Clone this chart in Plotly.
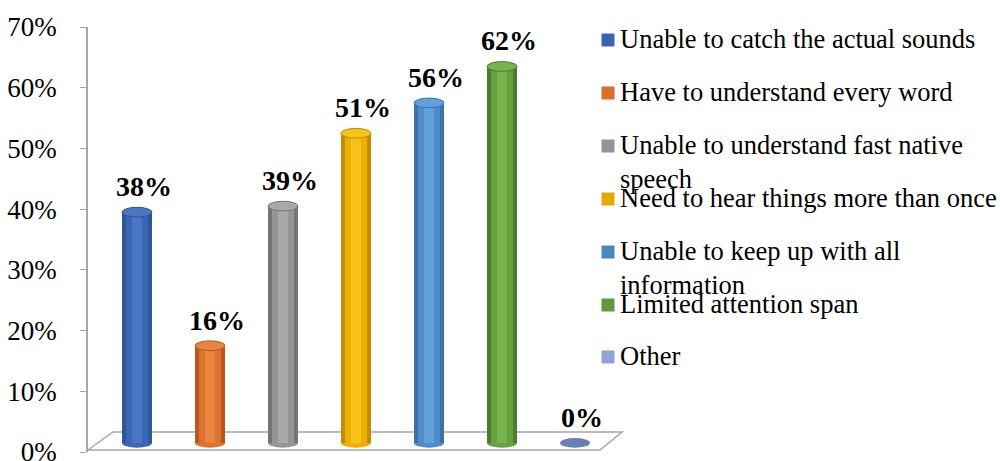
import plotly.graph_objects as go

# data
categories = [
    "Unable to catch the actual sounds",
    "Have to understand every word",
    "Unable to understand fast native speech",
    "Need to hear things more than once",
    "Unable to keep up with all information",
    "Limited attention span",
    "Other",
]
legend_labels = [
    "Unable to catch the actual sounds",
    "Have to understand every word",
    "Unable to understand fast native<br>speech",
    "Need to hear things more than once",
    "Unable to keep up with all<br>information",
    "Limited attention span",
    "Other",
]
values = [0.38, 0.16, 0.39, 0.51, 0.56, 0.62, 0.0]

edge_colors = ["#2E5597", "#B9581E", "#757575", "#C08C00", "#3B73A8", "#4B7D2E", "#5E74A6"]
mid_colors = ["#3B66B3", "#DD7330", "#959595", "#EDB000", "#4F8DCA", "#66A03F", "#6A80B0"]
light_colors = ["#4A77C4", "#EB8440", "#A8A8A8", "#F7C21A", "#62A0DA", "#78B44E", "#7A90C0"]
legend_colors = ["#3C64AE", "#DB6E2A", "#959595", "#E6A800", "#4A88C2", "#5E9A3C", "#8FA3D6"]

SERIF = "Liberation Serif, Times New Roman, serif"

# plot box in pixels (for placing the hand-drawn legend / floor)
L, R, T, B = 88, 625, 27, 452


def px(x):
    return (x - L) / (R - L)


def py(y):
    return 1 - (y - T) / (B - T)


xs = list(range(len(categories)))
fig = go.Figure()

# cylinder body: overlaid bars of decreasing width to fake the shading
for width, cols in [(0.41, edge_colors), (0.31, mid_colors), (0.15, light_colors)]:
    fig.add_trace(
        go.Bar(
            x=xs,
            y=values,
            width=width,
            marker=dict(color=cols, line=dict(width=0)),
            yaxis="y2",
            showlegend=False,
            hovertext=categories,
            hoverinfo="text+y",
        )
    )

# a dummy trace so the visible y axis gets drawn
fig.add_trace(go.Scatter(x=[0], y=[0], mode="markers", marker=dict(opacity=0),
                         showlegend=False, hoverinfo="skip"))

# 3D floor
fig.add_shape(
    type="path",
    xref="paper", yref="paper",
    path=f"M {px(88)} {py(450)} L {px(113)} {py(432)} L {px(622)} {py(432)} "
         f"L {px(600)} {py(450)} Z",
    line=dict(color="#A6A6A6", width=1.5),
    fillcolor="white",
    layer="below",
)

half_w = 0.205
cap_h = 0.008
for i, v in enumerate(values):
    # bottom ellipse
    fig.add_shape(type="circle", xref="x", yref="y2",
                  x0=i - half_w, x1=i + half_w, y0=-cap_h, y1=cap_h,
                  fillcolor=mid_colors[i], line=dict(width=0), layer="below")
    if v > 0:
        # top cap
        fig.add_shape(type="circle", xref="x", yref="y2",
                      x0=i - half_w, x1=i + half_w, y0=v - cap_h, y1=v + cap_h,
                      fillcolor=light_colors[i], line=dict(color=edge_colors[i], width=1))
    fig.add_annotation(x=i, y=v, xref="x", yref="y2", text=f"{v:.0%}",
                       showarrow=False, yanchor="bottom", yshift=8, xshift=7,
                       font=dict(family=SERIF, size=28, color="black", weight="bold"))

# legend drawn by hand so the entries keep Excel's even spacing
legend_y = [40, 93, 146, 199, 252, 305, 357]
for lab, col, yc in zip(legend_labels, legend_colors, legend_y):
    fig.add_shape(type="rect", xref="paper", yref="paper",
                  xsizemode="pixel", ysizemode="pixel",
                  xanchor=px(608), yanchor=py(yc),
                  x0=-6.5, x1=6.5, y0=-6.5, y1=6.5,
                  fillcolor=col, line=dict(width=0))
    fig.add_annotation(x=px(618), y=py(yc - 18), xref="paper", yref="paper",
                       text=lab, showarrow=False, xanchor="left", yanchor="top",
                       align="left", font=dict(family=SERIF, size=26.5, color="black"))

fig.update_layout(
    width=1000,
    height=461,
    margin=dict(l=L, r=1000 - R, t=T, b=461 - B, autoexpand=False),
    paper_bgcolor="white",
    plot_bgcolor="white",
    barmode="overlay",
    bargap=0,
    showlegend=False,
    font=dict(family=SERIF, size=26, color="black"),
    xaxis=dict(range=[-0.671, 6.685], visible=False, fixedrange=True),
    yaxis=dict(
        range=[0, 0.7],
        dtick=0.1,
        tickformat=".0%",
        showgrid=False,
        zeroline=False,
        showline=True,
        linecolor="#A6A6A6",
        linewidth=1.5,
        ticks="outside",
        ticklen=6,
        tickcolor="#A6A6A6",
        ticklabelstandoff=18,
        ticklabeloverflow="allow",
        automargin=False,
        tickfont=dict(family=SERIF, size=27, color="black"),
    ),
    yaxis2=dict(range=[-0.015, 0.685], overlaying="y", visible=False),
)

# drop the browser's default 8px body margin so the figure sits at the top-left
fig.write_html(
    "out.html",
    config={"displayModeBar": False},
    post_script="document.body.style.margin = '0px';",
)
